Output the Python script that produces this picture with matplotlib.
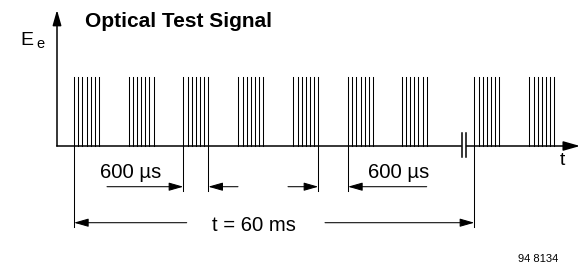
import matplotlib
matplotlib.use('Agg')
import matplotlib.pyplot as plt

plt.rcParams['font.family'] = ['Liberation Sans', 'DejaVu Sans']

# drawing units = pixels, origin at the axis corner
burst_starts = [17, 71.5, 126.3, 181.3, 236.3, 291, 344.7, 417.3, 472.3]
pulse_offsets = [0, 4.2, 8.3, 12.5, 16.7, 20.8, 25]
pulse_height = 69
break_marks = [404.7, 409]

title = 'Optical Test Signal'
width_label = '600 µs'
period_label = 't = 60 ms'
fig_code = '94 8134'

fig = plt.figure(figsize=(5.84, 2.65), dpi=100)
ax = fig.add_axes([0, 0, 1, 1])
ax.set_xlim(-57, 527)
ax.set_ylim(-119, 146)
ax.axis('off')

lw_axis = 1.1
lw_thin = 0.75

def arrow(x0, y0, x1, y1, lw=lw_thin, scale=21):
    ax.annotate('', xy=(x1, y1), xytext=(x0, y0),
                arrowprops=dict(arrowstyle='-|>,head_length=0.42,head_width=0.12',
                                mutation_scale=scale, lw=lw, color='black',
                                shrinkA=0, shrinkB=0))

# axes
arrow(0, 0, 0, 136, lw=lw_axis, scale=22)
ax.plot([0, break_marks[0] - 0.5], [0, 0], color='black', lw=lw_axis)
arrow(break_marks[1] + 0.5, 0, 523, 0, lw=lw_axis, scale=24)
for bx in break_marks:
    ax.plot([bx, bx], [-10.7, 13], color='black', lw=lw_axis)

# pulse bursts
for s in burst_starts:
    for o in pulse_offsets:
        ax.plot([s + o, s + o], [0, pulse_height], color='black', lw=lw_thin)

burst_w = pulse_offsets[-1]

# extension lines
ax.plot([burst_starts[0]] * 2, [0, -81], color='black', lw=lw_thin)
ax.plot([burst_starts[7]] * 2, [0, -81], color='black', lw=lw_thin)
for x in [burst_starts[2], burst_starts[2] + burst_w,
          burst_starts[4] + burst_w, burst_starts[5]]:
    ax.plot([x, x], [0, -45], color='black', lw=lw_thin)

# 600 us dimensions
ya = -40.7
arrow(50, ya, burst_starts[2], ya)
arrow(181, ya, burst_starts[2] + burst_w, ya)
arrow(231, ya, burst_starts[4] + burst_w, ya)
arrow(369.7, ya, burst_starts[5], ya)

# 60 ms dimension
yb = -76.7
arrow(129.7, yb, burst_starts[0], yb)
arrow(268, yb, burst_starts[7], yb)

fs = 14.6
ax.text(74, -31.7, width_label, fontsize=fs, ha='center', va='baseline')
ax.text(341.7, -31.7, width_label, fontsize=fs, ha='center', va='baseline')
ax.text(197.3, -84.7, period_label, fontsize=fs, ha='center', va='baseline')

ax.text(28, 119.3, title, fontsize=15, fontweight='bold', ha='left', va='baseline')
ax.text(-37, 101, 'E', fontsize=14, ha='left', va='baseline')
ax.text(-21, 97.7, 'e', fontsize=10.5, ha='left', va='baseline')
ax.text(505.7, -19, 't', fontsize=14, ha='center', va='baseline')
ax.text(461.3, -118, fig_code, fontsize=8, ha='left', va='bottom')

fig.savefig('out.png', dpi=100)
